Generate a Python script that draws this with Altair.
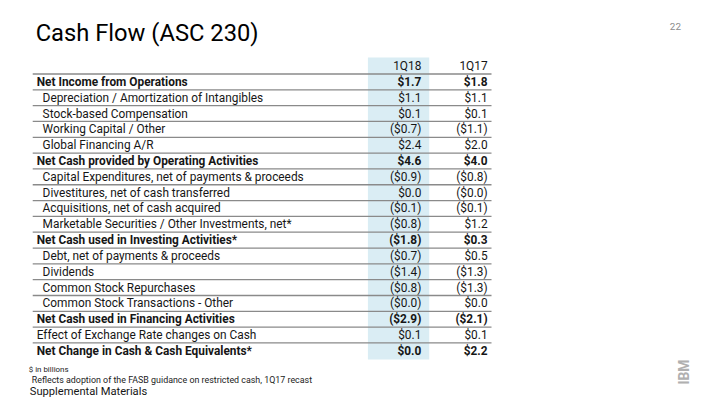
import altair as alt
import pandas as pd

FONT = "Roboto"

labels = [
    "",
    "Net Income from Operations",
    "Depreciation / Amortization of Intangibles",
    "Stock-based Compensation",
    "Working Capital / Other",
    "Global Financing  A/R",
    "Net Cash provided by Operating Activities",
    "Capital Expenditures, net of payments & proceeds",
    "Divestitures, net of cash transferred",
    "Acquisitions, net of cash acquired",
    "Marketable Securities / Other Investments, net*",
    "Net Cash used in Investing Activities*",
    "Debt, net of payments & proceeds",
    "Dividends",
    "Common Stock Repurchases",
    "Common Stock Transactions - Other",
    "Net Cash used in Financing Activities",
    "Effect of Exchange Rate changes on Cash",
    "Net Change in Cash & Cash Equivalents*",
]
q18 = ["1Q18", "$1.7", "$1.1", "$0.1", "($0.7)", "$2.4", "$4.6", "($0.9)", "$0.0", "($0.1)",
       "($0.8)", "($1.8)", "($0.7)", "($1.4)", "($0.8)", "($0.0)", "($2.9)", "$0.1", "$0.0"]
q17 = ["1Q17", "$1.8", "$1.1", "$0.1", "($1.1)", "$2.0", "$4.0", "($0.8)", "($0.0)", "($0.1)",
       "$1.2", "$0.3", "$0.5", "($1.3)", "($1.3)", "$0.0", "($2.1)", "$0.1", "$2.2"]
levels = ["header", "total", "item", "item", "item", "item", "total", "item", "item", "item",
          "item", "total", "item", "item", "item", "item", "total", "plain", "total"]

df = pd.DataFrame({
    "row": list(range(len(labels))),
    "label": labels,
    "q18": q18,
    "q17": q17,
    "level": levels,
})

yscale = alt.Scale(domain=[0, 18], range=[56.5, 344.5])
Y = alt.Y("row:Q", scale=yscale, axis=None)

base = alt.Chart(df)

shade = base.transform_filter("datum.row == 0").mark_rect(color="#daedf4").encode(
    x=alt.value(364), x2=alt.value(426),
    y=alt.Y(datum=-0.55, scale=yscale, axis=None), y2=alt.Y2(datum=18.55),
)

rules = base.transform_filter("datum.row < 18").transform_calculate(
    line="datum.row + 0.5"
).mark_rule(color="#8a8a8a", strokeWidth=1.3).encode(
    y=alt.Y("line:Q", scale=yscale, axis=None),
    x=alt.value(25), x2=alt.value(489),
)

txt = dict(baseline="middle", font=FONT, fontSize=12, color="#161616")

lab_total = base.transform_filter("datum.level == 'total'").mark_text(
    align="left", fontWeight="bold", **txt).encode(y=Y, x=alt.value(29), text="label:N")
lab_item = base.transform_filter("datum.level == 'item'").mark_text(
    align="left", **txt).encode(y=Y, x=alt.value(35), text="label:N")
lab_plain = base.transform_filter("datum.level == 'plain'").mark_text(
    align="left", **txt).encode(y=Y, x=alt.value(29), text="label:N")

v18_b = base.transform_filter("datum.level == 'total'").mark_text(
    align="right", fontWeight="bold", **txt).encode(y=Y, x=alt.value(418), text="q18:N")
v18_n = base.transform_filter("datum.level != 'total'").mark_text(
    align="right", **txt).encode(y=Y, x=alt.value(418), text="q18:N")
v17_b = base.transform_filter("datum.level == 'total'").mark_text(
    align="right", fontWeight="bold", **txt).encode(y=Y, x=alt.value(485), text="q17:N")
v17_n = base.transform_filter("datum.level != 'total'").mark_text(
    align="right", **txt).encode(y=Y, x=alt.value(485), text="q17:N")

one = alt.Chart(pd.DataFrame({"k": [0]}))

title = one.mark_text(align="left", baseline="middle", font=FONT, fontSize=24,
                      color="#000000").encode(
    x=alt.value(28), y=alt.value(24), text=alt.value("Cash Flow (ASC 230)"))
page = one.mark_text(align="center", baseline="middle", font=FONT, fontSize=10,
                     color="#8c8c8c").encode(
    x=alt.value(675), y=alt.value(17), text=alt.value("22"))
fn1 = one.mark_text(align="left", baseline="middle", font=FONT, fontSize=8,
                    color="#222222").encode(
    x=alt.value(21), y=alt.value(364), text=alt.value("$ in billions"))
fn2 = one.mark_text(align="left", baseline="middle", font=FONT, fontSize=9,
                    color="#222222").encode(
    x=alt.value(24), y=alt.value(374),
    text=alt.value("Reflects adoption of the FASB guidance on restricted cash, 1Q17 recast"))
fn3 = one.mark_text(align="left", baseline="middle", font=FONT, fontSize=11.3,
                    color="#161616").encode(
    x=alt.value(22), y=alt.value(386), text=alt.value("Supplemental Materials"))
logo = one.mark_text(align="center", baseline="middle", font=FONT, fontSize=14,
                     fontWeight="bold", angle=270, color="#b0b0b0").encode(
    x=alt.value(685), y=alt.value(366), text=alt.value("IBM"))

chart = alt.layer(
    shade, rules, lab_total, lab_item, lab_plain, v18_b, v18_n, v17_b, v17_n,
    title, page, fn1, fn2, fn3, logo,
).properties(
    width=712, height=397, padding=0, autosize=alt.AutoSizeParams(type="none"),
    background="#ffffff",
).configure_view(stroke=None)

chart.save("out.html", embed_options={"renderer": "svg", "actions": False})
